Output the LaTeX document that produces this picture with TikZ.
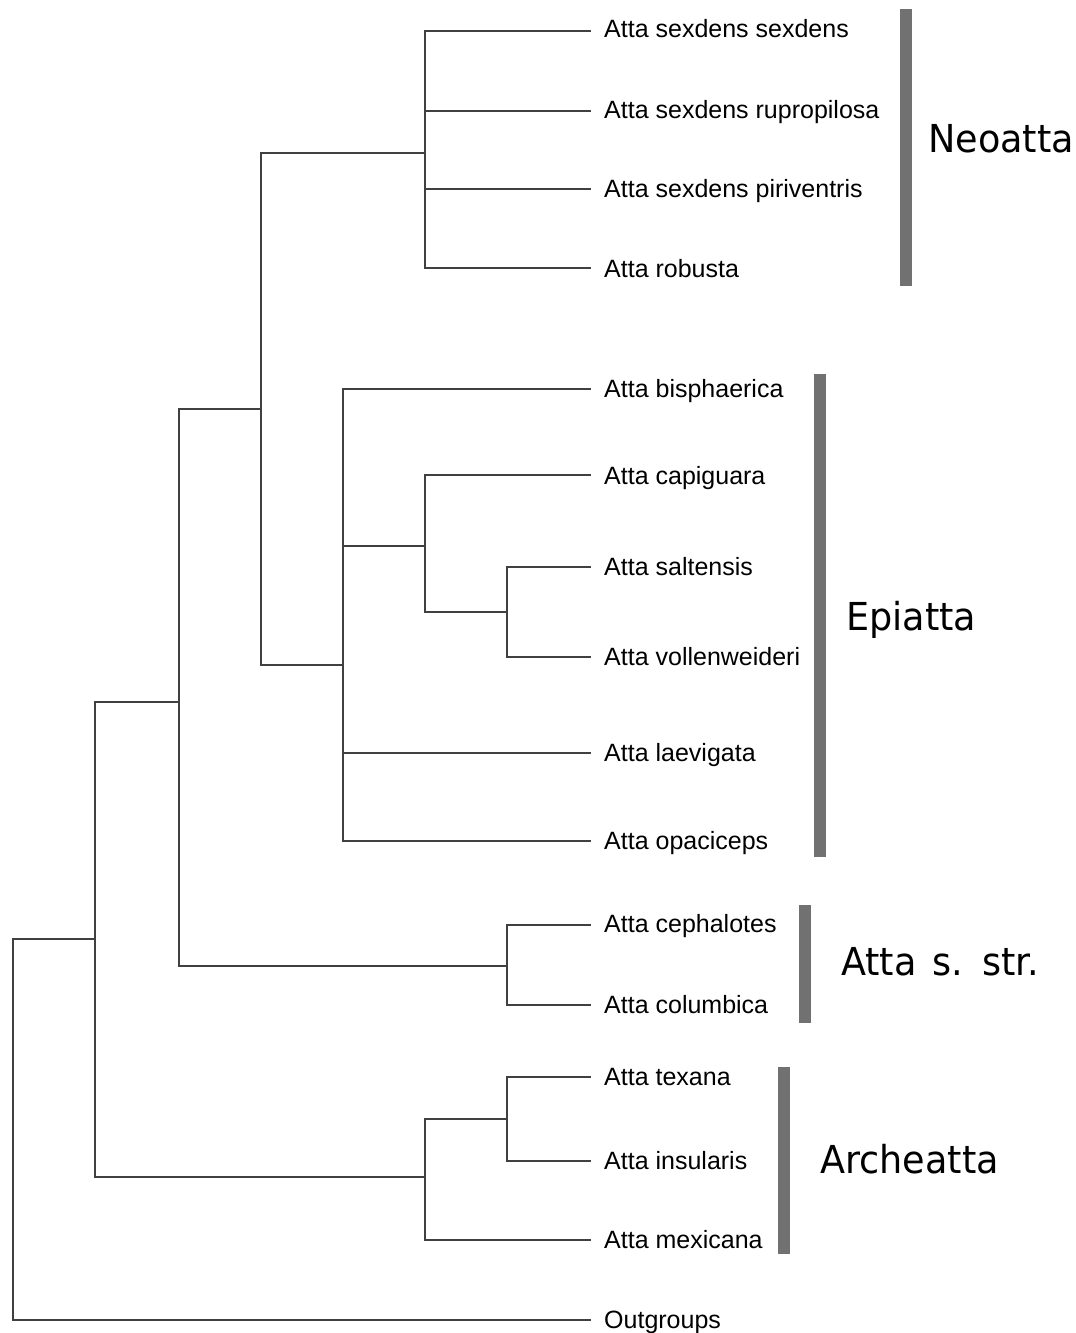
\documentclass[tikz,border=0pt]{standalone}
\usepackage{fontspec}
\setmainfont{Liberation Sans}
\newfontfamily\grpfont[FakeStretch=0.95]{DejaVu Sans}
\definecolor{branchcol}{HTML}{404040}
\definecolor{barcol}{HTML}{717171}
\begin{document}
\begin{tikzpicture}[x=1pt,y=-1pt,
  branch/.style={draw=branchcol,line width=1.3pt,line cap=rect},
  leaflab/.style={anchor=base west,inner sep=0pt,font=\fontsize{25}{30}\selectfont},
  grplab/.style={anchor=base west,inner sep=0pt,font=\grpfont\fontsize{38.5}{46}\selectfont},
  cladebar/.style={fill=barcol,draw=none}]
\useasboundingbox (0,0) rectangle (1076,1333);
% leaf tips
\foreach \n/\y in {t1/31,t2/111,t3/189,t4/268,t5/389,t6/475,t7/567,t8/657,t9/753,t10/841,t11/925,t12/1005,t13/1077,t14/1161,t15/1240,t16/1320}
  \coordinate (\n) at (590,\y);
% leaf labels
\node[leaflab] (l1) at (604,37.5) {Atta sexdens sexdens};
\node[leaflab] (l2) at (604,118.5) {Atta sexdens rupropilosa};
\node[leaflab] (l3) at (604,197) {Atta sexdens piriventris};
\node[leaflab] (l4) at (604,277) {Atta robusta};
\node[leaflab] (l5) at (604,397) {Atta bisphaerica};
\node[leaflab] (l6) at (604,484) {Atta capiguara};
\node[leaflab] (l7) at (604,575.5) {Atta saltensis};
\node[leaflab] (l8) at (604,665.5) {Atta vollenweideri};
\node[leaflab] (l9) at (604,761) {Atta laevigata};
\node[leaflab] (l10) at (604,849) {Atta opaciceps};
\node[leaflab] (l11) at (604,932.5) {Atta cephalotes};
\node[leaflab] (l12) at (604,1013) {Atta columbica};
\node[leaflab] (l13) at (604,1085) {Atta texana};
\node[leaflab] (l14) at (604,1169) {Atta insularis};
\node[leaflab] (l15) at (604,1248) {Atta mexicana};
\node[leaflab] (l16) at (604,1328) {Outgroups};
% internal nodes (x of node, y of its stem)
\coordinate (nNeo) at (425,153);
\coordinate (nSal) at (507,612);
\coordinate (nCap) at (425,546);
\coordinate (nEpi) at (343,665);
\coordinate (nA) at (261,409);
\coordinate (nStr) at (507,966);
\coordinate (nB) at (179,702);
\coordinate (nTex) at (507,1119);
\coordinate (nArc) at (425,1177);
\coordinate (nC) at (95,939);
\coordinate (nRoot) at (13,1130);
% branches
\foreach \p/\c in {nNeo/t1,nNeo/t2,nNeo/t3,nNeo/t4,
  nSal/t7,nSal/t8,nCap/t6,nCap/nSal,
  nEpi/t5,nEpi/nCap,nEpi/t9,nEpi/t10,
  nA/nNeo,nA/nEpi,nStr/t11,nStr/t12,nB/nA,nB/nStr,
  nTex/t13,nTex/t14,nArc/nTex,nArc/t15,nC/nB,nC/nArc,
  nRoot/nC,nRoot/t16}
  \draw[branch] (\p) |- (\c);
% clade bars
\fill[cladebar] (899.5,9) rectangle (911.5,286);
\fill[cladebar] (813.5,373.5) rectangle (826,857);
\fill[cladebar] (798.5,905) rectangle (811,1022.5);
\fill[cladebar] (778,1067) rectangle (790,1254);
% clade labels
\node[grplab] (gNeo) at (928,152.7) {Neoatta};
\node[grplab] (gEpi) at (846,630) {Epiatta};
\node[grplab] (gStr) at (841,975.6) {Atta\hspace{4pt} s.\hspace{4pt} str.};
\node[grplab] (gArc) at (820,1173) {Archeatta};
\end{tikzpicture}
\end{document}
